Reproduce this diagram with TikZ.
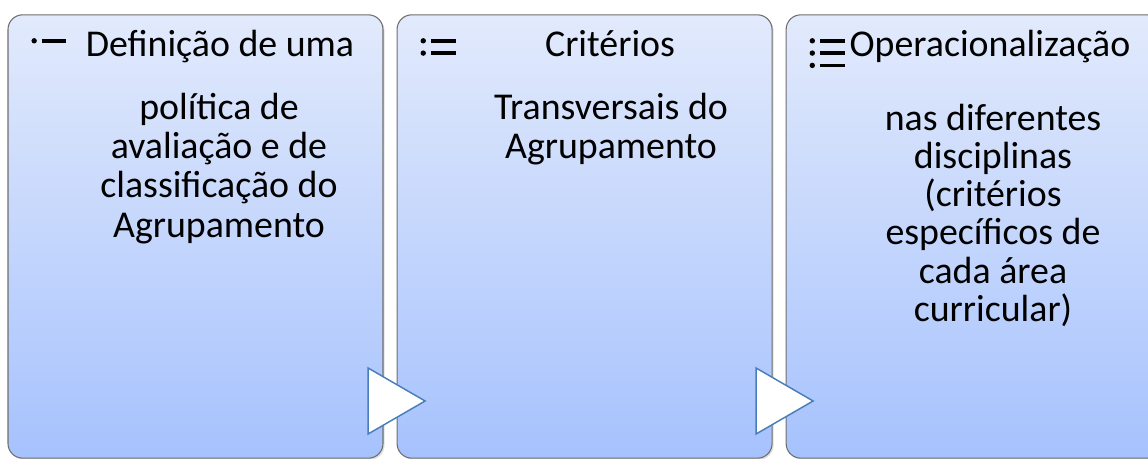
\documentclass[tikz,border=0pt]{standalone}
\usepackage{fontspec}
\setmainfont{Carlito}
\usetikzlibrary{shapes.geometric, positioning, calc, shadows}

\definecolor{paneltop}{RGB}{226,234,252}
\definecolor{panelbottom}{RGB}{166,194,253}
\definecolor{panelline}{RGB}{110,110,110}
\definecolor{chevronline}{RGB}{74,126,187}

\begin{document}
\begin{tikzpicture}[
      x=0.75pt, y=-0.75pt,
      font=\fontsize{28.4}{29.4}\selectfont,
      node distance=9.75pt,
      panel/.style={rectangle, draw=panelline, line width=0.8pt, rounded corners=11pt, top color=paneltop, bottom color=panelbottom, minimum width=281.25pt, minimum height=332.5pt, inner sep=0pt, drop shadow={opacity=0.25, shadow xshift=1.2pt, shadow yshift=-1.2pt}},
      head/.style={anchor=base, inner sep=0pt},
      body/.style={anchor=north, align=center, inner sep=0pt},
      chevron/.style={isosceles triangle, isosceles triangle stretches, shape border rotate=0, draw=chevronline, line width=1.1pt, fill=white, minimum width=49.5pt, minimum height=42.75pt, inner sep=0pt, anchor=apex},
      bar/.style={line width=2.8pt}
    ]
      \useasboundingbox (0,0) rectangle (1148,459);

      \node (defbox) [panel] at (195.5,236.5) {};
      \node (critbox) [panel, right=of defbox] {};
      \node (operbox) [panel, right=of critbox] {};

      % list marks, one line more in each panel
      \foreach \b/\n in {defbox/1, critbox/2, operbox/3} {
        \foreach \k in {1,...,\n} {
          \fill ($(\b.north west)+(26.7,26.5+12.3*\k-12.3)$) circle (2.7);
          \draw [bar] ($(\b.north west)+(34.3,26.5+12.3*\k-12.3)$) -- ++(24.7,0);
        }
      }

      \node (defhead) [head] at (220,57) {Definição de uma};
      \node (crithead) [head] at (610,57) {Critérios};
      \node (operhead) [head] at (990,57) {Operacionalização};

      \node (deftext) [body] at (219,93) {política de\\avaliação e de\\classificação do\\Agrupamento};
      \node (crittext) [body] at (611,93) {Transversais do\\Agrupamento};
      \node (opertext) [body, font=\fontsize{28.4}{28.6}\selectfont] at (993,104) {nas diferentes\\disciplinas\\(critérios\\específicos de\\cada área\\curricular)};

      \node (stepa) [chevron] at (427,401) {};
      \node (stepb) [chevron] at (815,401) {};
    \end{tikzpicture}
\end{document}
